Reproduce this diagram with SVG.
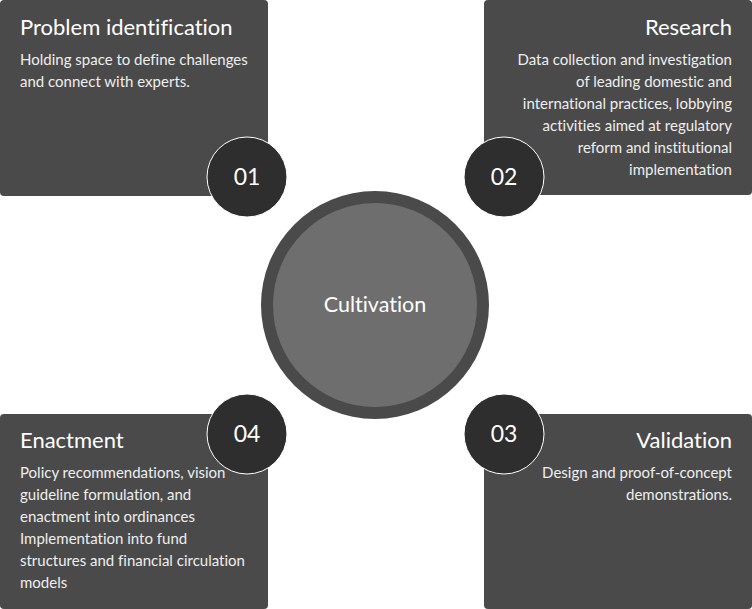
<svg xmlns="http://www.w3.org/2000/svg" width="752" height="609" viewBox="0 0 752 609">
<style>
text{font-variant-ligatures:none}
.box{fill:#4a4a4a}
.title{font-family:Lato,"Noto Sans",sans-serif;font-size:22px;fill:#ffffff}
.body{font-family:Lato,"Noto Sans",sans-serif;font-size:15px;fill:#eeeeee}
.num{fill:#2e2e2e;stroke:#ffffff;stroke-width:1}
.numt{font-family:Lato,"Noto Sans",sans-serif;font-size:23px;fill:#ffffff;text-anchor:middle}
.r{text-anchor:end}
</style>
<rect width="752" height="609" fill="#ffffff"/>
<g id="connectors"></g>
<g id="problem">
<rect class="box" x="0" y="0" width="268" height="196" rx="4"/>
<text class="title" x="20" y="35">Problem identification</text>
<text class="body" x="20" y="65">Holding space to define challenges</text>
<text class="body" x="20" y="87">and connect with experts.</text>
</g>
<g id="research">
<rect class="box" x="484" y="0" width="268" height="195" rx="4"/>
<text class="title r" x="732" y="35">Research</text>
<text class="body r" x="732" y="65">Data collection and investigation</text>
<text class="body r" x="732" y="87">of leading domestic and</text>
<text class="body r" x="732" y="109">international practices, lobbying</text>
<text class="body r" x="732" y="131">activities aimed at regulatory</text>
<text class="body r" x="732" y="153">reform and institutional</text>
<text class="body r" x="732" y="175">implementation</text>
</g>
<g id="enactment">
<rect class="box" x="0" y="414" width="268" height="195" rx="4"/>
<text class="title" x="20" y="448">Enactment</text>
<text class="body" x="20" y="478">Policy recommendations, vision</text>
<text class="body" x="20" y="500">guideline formulation, and</text>
<text class="body" x="20" y="522">enactment into ordinances</text>
<text class="body" x="20" y="544">Implementation into fund</text>
<text class="body" x="20" y="566">structures and financial circulation</text>
<text class="body" x="20" y="588">models</text>
</g>
<g id="validation">
<rect class="box" x="484" y="414" width="268" height="195" rx="4"/>
<text class="title r" x="732" y="448">Validation</text>
<text class="body r" x="732" y="478">Design and proof-of-concept</text>
<text class="body r" x="732" y="500">demonstrations.</text>
</g>
<g id="cultivation">
<circle cx="375" cy="305" r="114" fill="#4a4a4a"/>
<circle cx="375" cy="305" r="102" fill="#6e6e6e"/>
<text x="375" y="312" text-anchor="middle" font-family="Lato,'Noto Sans',sans-serif" font-size="21.5" fill="#ffffff">Cultivation</text>
</g>
<g id="n01"><circle class="num" cx="247" cy="177" r="40"/><text class="numt" x="247" y="185">01</text></g>
<g id="n02"><circle class="num" cx="504" cy="177" r="40"/><text class="numt" x="504" y="185">02</text></g>
<g id="n03"><circle class="num" cx="504" cy="434" r="40"/><text class="numt" x="504" y="442">03</text></g>
<g id="n04"><circle class="num" cx="247" cy="434" r="40"/><text class="numt" x="247" y="442">04</text></g>
</svg>
